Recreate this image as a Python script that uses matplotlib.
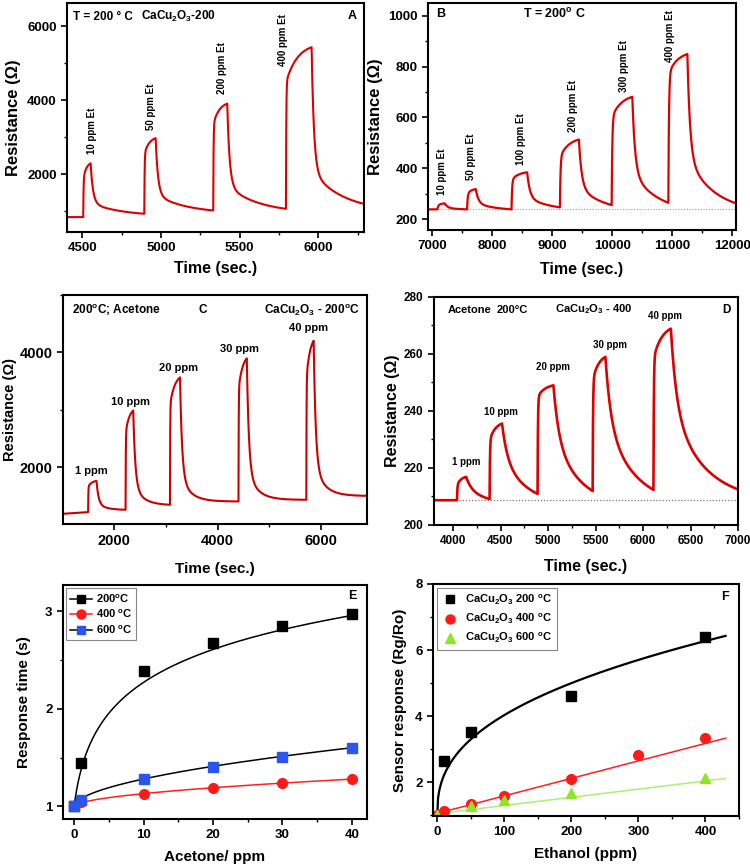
import numpy as np
import matplotlib
matplotlib.use("Agg")
import matplotlib.pyplot as plt
from matplotlib.ticker import MultipleLocator
from matplotlib.lines import Line2D

plt.rcParams['font.family'] = ['Liberation Sans', 'DejaVu Sans']
plt.rcParams['font.weight'] = 'bold'
plt.rcParams['axes.labelweight'] = 'bold'
plt.rcParams['mathtext.fontset'] = 'custom'
plt.rcParams['mathtext.rm'] = 'Liberation Sans:bold'
plt.rcParams['mathtext.bf'] = 'Liberation Sans:bold'
plt.rcParams['mathtext.it'] = 'Liberation Sans:bold'
plt.rcParams['mathtext.default'] = 'rm'

# ---------------- DATA ----------------
# Panel A: ethanol pulses, CaCu2O3-200
A_start, A_R0, A_end = 4403, 843, 6290
A_on = [4506, 4894, 5332, 5794]
A_off = [4553, 4966, 5421, 5957]
A_jump = [1874, 2547, 3354, 4475]
A_peak = [2296, 2977, 3910, 5435]
A_base = [843, 933, 1022, 1067, 1200]
A_labels = ["10 ppm Et", "50 ppm Et", "200 ppm Et", "400 ppm Et"]
A_lab_t = [4560, 4935, 5386, 5778]
A_lab_R = [2547, 3193, 4179, 4924]

# Panel B: ethanol pulses
B_start, B_R0, B_end = 6925, 238, 12060
B_on = [7082, 7576, 8317, 9124, 9987, 10932]
B_off = [7204, 7721, 8578, 9441, 10331, 11249]
B_jump = [252, 298, 355, 445, 600, 770]
B_peak = [262, 318, 384, 513, 681, 849]
B_base = [238, 238, 238, 246, 255, 264, 262]
B_baseline = 238
B_labels = ["10 ppm Et", "50 ppm Et", "100 ppm Et", "200 ppm Et", "300 ppm Et", "400 ppm Et"]
B_lab_t = [7165, 7649, 8472, 9346, 10197, 10960]
B_lab_R = [294, 353, 412, 544, 701, 819]

# Panel C: acetone pulses, CaCu2O3-200
C_start, C_R0, C_end = 1010, 1188, 6890
C_on = [1496, 2220, 3079, 4404, 5716]
C_off = [1658, 2368, 3273, 4565, 5858]
C_jump = [1664, 2591, 3084, 3345, 3519]
C_peak = [1762, 2986, 3565, 3896, 4203]
C_base = [1217, 1258, 1345, 1403, 1432, 1501]
C_labels = ["1 ppm", "10 ppm", "20 ppm", "30 ppm", "40 ppm"]
C_lab_t = [1561, 2323, 3254, 4423, 5761]
C_lab_R = [1925, 3142, 3722, 4052, 4417]

# Panel D: acetone pulses, CaCu2O3-400
D_start, D_R0, D_end = 3800, 208.7, 7000
D_on = [4042, 4385, 4890, 5470, 6110]
D_off = [4138, 4516, 5057, 5604, 6293]
D_jump = [214.0, 229.8, 245.0, 250.8, 258.4]
D_peak = [216.9, 235.6, 249.0, 259.0, 268.9]
D_base = [208.7, 209.1, 210.9, 211.9, 212.3, 212.5]
D_baseline = 208.7
D_labels = ["1 ppm", "10 ppm", "20 ppm", "30 ppm", "40 ppm"]
D_lab_t = [4138, 4509, 5057, 5657, 6233]
D_lab_R = [222.2, 239.7, 255.5, 263.1, 273.2]

# Panel E: response time vs acetone
E_x = [0, 1, 10, 20, 30, 40]
E_200 = [1.0, 1.44, 2.39, 2.68, 2.85, 2.97]
E_400 = [1.0, 1.04, 1.13, 1.19, 1.24, 1.28]
E_600 = [1.0, 1.07, 1.28, 1.40, 1.51, 1.60]
E_fit200 = (0.52, 0.95)       # y = 1 + c*ln(1 + x/k)
E_fit400 = (0.0367, 0.55)     # y = 1 + a*x^b
E_fit600 = (0.079, 0.55)

# Panel F: sensor response vs ethanol
F_x200 = [10, 50, 200, 400]
F_y200 = [2.65, 3.52, 4.60, 6.40]
F_x400 = [0, 10, 50, 100, 200, 300, 400]
F_y400 = [1.0, 1.11, 1.33, 1.58, 2.09, 2.83, 3.32]
F_x600 = [0, 50, 100, 200, 400]
F_y600 = [1.0, 1.28, 1.44, 1.68, 2.12]
F_fit200 = (0.48, 0.40)       # y = 1 + a*x^b
F_fit400 = (1.05, 0.0053)     # y = i + s*x
F_fit600 = (1.04, 0.00248)
F_fit_xmax = 430

# ---------------- helpers ----------------
RED = '#dd0000'


def transient(t_start, R0, t_end, on, off, jump, peak, base,
              tj, tr_frac, w, t1, t2):
    ts, Rs = [], []
    t = np.linspace(t_start, on[0], 100)
    ts.append(t); Rs.append(np.linspace(R0, base[0], 100))
    for i in range(len(on)):
        Rb = base[i]
        D = off[i] - on[i]
        t = np.linspace(on[i], off[i], 800)
        dt = t - on[i]
        tr = tr_frac * D
        R = Rb + (jump[i] - Rb) * (1 - np.exp(-dt / tj)) \
            + (peak[i] - jump[i]) * (1 - np.exp(-dt / tr)) / (1 - np.exp(-D / tr))
        ts.append(t); Rs.append(R)
        tn = on[i + 1] if i + 1 < len(on) else t_end
        Rn = base[i + 1]
        T = tn - off[i]
        t = np.linspace(off[i], tn, 1500)
        dt = t - off[i]
        g = w * np.exp(-dt / t1) + (1 - w) * np.exp(-dt / t2)
        gT = w * np.exp(-T / t1) + (1 - w) * np.exp(-T / t2)
        Rp = R[-1]
        ts.append(t); Rs.append(Rn + (Rp - Rn) * (g - gT) / (1 - gT))
    return np.concatenate(ts), np.concatenate(Rs)


def style(ax, fs=9.5):
    for s in ax.spines.values():
        s.set_linewidth(1.5)
    ax.tick_params(which='major', direction='out', length=4, width=1.2,
                   labelsize=fs)
    ax.tick_params(which='minor', direction='out', length=2.5, width=1.0)
    for lab in ax.get_xticklabels() + ax.get_yticklabels():
        lab.set_fontweight('bold')


W, H = 750, 867
fig = plt.figure(figsize=(7.5, 8.67), dpi=100)


def add_ax(l, r, t, b):
    return fig.add_axes([l / W, 1 - b / H, (r - l) / W, (b - t) / H])

# ---------------- Panel A ----------------
axA = add_ax(67, 364, 3, 232)
t, R = transient(A_start, A_R0, A_end, A_on, A_off, A_jump, A_peak, A_base,
                 2.0, 0.45, 0.75, 15, 200)
axA.plot(t, R, color=RED, lw=1.5)
axA.set_xlim(4403, 6290)
axA.set_ylim(440, 6630)
axA.set_xticks([4500, 5000, 5500, 6000])
axA.set_yticks([2000, 4000, 6000])
axA.xaxis.set_minor_locator(MultipleLocator(250))
axA.yaxis.set_minor_locator(MultipleLocator(1000))
style(axA)
axA.set_xlabel('Time (sec.)', fontsize=11.5, labelpad=5)
axA.set_ylabel('Resistance (Ω)', fontsize=12, labelpad=4)
for lab, lt, lr in zip(A_labels, A_lab_t, A_lab_R):
    axA.text(lt, lr, lab, rotation=90, ha='center', va='bottom', fontsize=7)
axA.text(0.02, 0.94, 'T = 200 ° C', transform=axA.transAxes, fontsize=8.5,
         va='center')
axA.text(0.25, 0.94, r'CaCu$_{2}$O$_{3}$-200', transform=axA.transAxes,
         fontsize=8.5, va='center')
axA.text(0.96, 0.945, 'A', transform=axA.transAxes, fontsize=9, ha='center',
         va='center')

# ---------------- Panel B ----------------
axB = add_ax(428, 736, 3, 230)
t, R = transient(B_start, B_R0, B_end, B_on, B_off, B_jump, B_peak, B_base,
                 10.0, 0.5, 0.65, 45, 450)
axB.axhline(B_baseline, color='#999999', lw=0.8, ls=(0, (1, 1.5)))
axB.plot(t, R, color=RED, lw=1.6)
axB.set_xlim(6925, 12060)
axB.set_ylim(157, 1050)
axB.set_xticks([7000, 8000, 9000, 10000, 11000, 12000])
axB.set_yticks([200, 400, 600, 800, 1000])
axB.xaxis.set_minor_locator(MultipleLocator(500))
axB.yaxis.set_minor_locator(MultipleLocator(100))
style(axB)
axB.set_xlabel('Time (sec.)', fontsize=11.5, labelpad=7)
axB.set_ylabel('Resistance (Ω)', fontsize=12, labelpad=4)
for lab, lt, lr in zip(B_labels, B_lab_t, B_lab_R):
    axB.text(lt, lr, lab, rotation=90, ha='center', va='bottom', fontsize=7)
axB.text(0.04, 0.95, 'B', transform=axB.transAxes, fontsize=9, ha='center',
         va='center')
axB.text(0.31, 0.95, 'T = 200$^{o}$ C', transform=axB.transAxes, fontsize=9,
         va='center')

# ---------------- Panel C ----------------
axC = add_ax(63, 367, 295, 524)
t, R = transient(C_start, C_R0, C_end, C_on, C_off, C_jump, C_peak, C_base,
                 4.0, 0.5, 0.8, 40, 200)
axC.plot(t, R, color='#cc0000', lw=1.5)
axC.set_xlim(1010, 6890)
axC.set_ylim(1010, 5000)
axC.set_xticks([2000, 4000, 6000])
axC.set_yticks([2000, 4000])
axC.xaxis.set_minor_locator(MultipleLocator(1000))
axC.yaxis.set_minor_locator(MultipleLocator(1000))
style(axC, fs=10.5)
axC.set_xlabel('Time (sec.)', fontsize=11, labelpad=10)
axC.set_ylabel('Resistance (Ω)', fontsize=10.5, labelpad=2)
for lab, lt, lr in zip(C_labels, C_lab_t, C_lab_R):
    axC.text(lt, lr, lab, ha='center', va='center', fontsize=8)
axC.text(0.03, 0.935, '200$^{o}$C; Acetone', transform=axC.transAxes,
         fontsize=8.5, va='center')
axC.text(0.46, 0.935, 'C', transform=axC.transAxes, fontsize=8.5,
         ha='center', va='center')
axC.text(0.975, 0.935, r'CaCu$_{2}$O$_{3}$ - 200$^{o}$C',
         transform=axC.transAxes, fontsize=8.5, ha='right', va='center')

# ---------------- Panel D ----------------
axD = add_ax(434, 738, 297, 525)
t, R = transient(D_start, D_R0, D_end, D_on, D_off, D_jump, D_peak, D_base,
                 4.0, 0.5, 0.45, 60, 350)
axD.axhline(D_baseline, color='#777777', lw=0.9, ls=(0, (1, 1.5)))
axD.plot(t, R, color=RED, lw=1.9)
axD.set_xlim(3800, 7000)
axD.set_ylim(200, 280)
axD.set_xticks([4000, 4500, 5000, 5500, 6000, 6500, 7000])
axD.set_yticks([200, 220, 240, 260, 280])
axD.xaxis.set_minor_locator(MultipleLocator(250))
axD.yaxis.set_minor_locator(MultipleLocator(10))
style(axD, fs=8.5)
axD.set_xlabel('Time (sec.)', fontsize=11.5, labelpad=8)
axD.set_ylabel('Resistance (Ω)', fontsize=11.5, labelpad=3)
for lab, lt, lr in zip(D_labels, D_lab_t, D_lab_R):
    axD.text(lt, lr, lab, ha='center', va='center', fontsize=7)
axD.text(0.045, 0.945, 'Acetone', transform=axD.transAxes, fontsize=8,
         va='center')
axD.text(0.205, 0.945, '200°C', transform=axD.transAxes, fontsize=8,
         va='center')
axD.text(0.398, 0.945, r'CaCu$_{2}$O$_{3}$ - 400', transform=axD.transAxes,
         fontsize=8, va='center')
axD.text(0.962, 0.945, 'D', transform=axD.transAxes, fontsize=8.5,
         ha='center', va='center')

# ---------------- Panel E ----------------
axE = add_ax(63, 367, 585, 819)
xf = np.linspace(0, 40, 400)
c, k = E_fit200
axE.plot(xf, 1 + c * np.log(1 + xf / k), color='black', lw=1.1)
a, b = E_fit400
axE.plot(xf, 1 + a * xf ** b, color='#ff2020', lw=1.1)
a, b = E_fit600
axE.plot(xf, 1 + a * xf ** b, color='black', lw=1.1)
axE.plot(E_x, E_200, 's', color='black', ms=6.5, ls='none')
axE.plot(E_x, E_400, 'o', color='#ff1a1a', ms=7, ls='none')
axE.plot(E_x, E_600, 's', color='#2a55ee', ms=6.5, ls='none')
axE.set_xlim(-1.6, 42.2)
axE.set_ylim(0.87, 3.27)
axE.set_xticks([0, 10, 20, 30, 40])
axE.set_yticks([1, 2, 3])
axE.xaxis.set_minor_locator(MultipleLocator(5))
axE.yaxis.set_minor_locator(MultipleLocator(0.5))
style(axE, fs=9.5)
axE.set_xlabel('Acetone/ ppm', fontsize=11, labelpad=6)
axE.set_ylabel('Response time (s)', fontsize=11, labelpad=10)
hE = [Line2D([], [], color='black', marker='s', ms=6, lw=1.1),
      Line2D([], [], color='#ff2020', marker='o', mfc='#ff1a1a',
             mec='#ff1a1a', ms=6.5, lw=1.1),
      Line2D([], [], color='black', marker='s', mfc='#2a55ee',
             mec='#2a55ee', ms=6, lw=1.1)]
legE = axE.legend(hE, ['200$^{o}$C', '400 $^{o}$C', '600 $^{o}$C'],
                  loc='upper left', fontsize=8, handlelength=2.0,
                  handletextpad=0.3, borderpad=0.35, labelspacing=0.3,
                  fancybox=False, edgecolor='#888888', framealpha=1,
                  borderaxespad=0.3)
legE.get_frame().set_linewidth(0.8)
axE.text(0.952, 0.955, 'E', transform=axE.transAxes, fontsize=9,
         ha='center', va='center')

# ---------------- Panel F ----------------
axF = add_ax(433, 739, 584, 816)
xf = np.linspace(0, F_fit_xmax, 400)
a, b = F_fit200
axF.plot(xf, 1 + a * xf ** b, color='black', lw=1.6)
i0, s0 = F_fit400
axF.plot(xf, i0 + s0 * xf, color='#ff2020', lw=1.1)
i0, s0 = F_fit600
axF.plot(xf, i0 + s0 * xf, color='#a8f07a', lw=1.1)
axF.plot(F_x200, F_y200, 's', color='black', ms=6.5, ls='none')
axF.plot(F_x400, F_y400, 'o', color='#ff1a1a', ms=7, ls='none')
axF.plot(F_x600, F_y600, '^', color='#8ee62a', ms=7.5, ls='none')
axF.set_xlim(-6.4, 450)
axF.set_ylim(0.97, 8.0)
axF.set_xticks([0, 100, 200, 300, 400])
axF.set_yticks([2, 4, 6, 8])
axF.xaxis.set_minor_locator(MultipleLocator(50))
axF.yaxis.set_minor_locator(MultipleLocator(1))
style(axF, fs=9.5)
axF.set_xlabel('Ethanol (ppm)', fontsize=11, labelpad=6)
axF.set_ylabel('Sensor response (Rg/Ro)', fontsize=11, labelpad=6)
hF = [Line2D([], [], color='black', marker='s', ms=6, ls='none'),
      Line2D([], [], color='#ff1a1a', marker='o', ms=6.5, ls='none'),
      Line2D([], [], color='#8ee62a', marker='^', ms=7, ls='none')]
legF = axF.legend(hF, [r'CaCu$_{2}$O$_{3}$ 200 $^{o}$C',
                       r'CaCu$_{2}$O$_{3}$ 400 $^{o}$C',
                       r'CaCu$_{2}$O$_{3}$ 600 $^{o}$C'],
                  loc='upper left', fontsize=8, handlelength=1.5,
                  handletextpad=0.6, borderpad=0.45, labelspacing=0.45,
                  fancybox=False, edgecolor='#888888', framealpha=1,
                  borderaxespad=0.35)
legF.get_frame().set_linewidth(0.8)
axF.text(0.954, 0.944, 'F', transform=axF.transAxes, fontsize=9,
         ha='center', va='center')

fig.savefig('out.png', dpi=100)
